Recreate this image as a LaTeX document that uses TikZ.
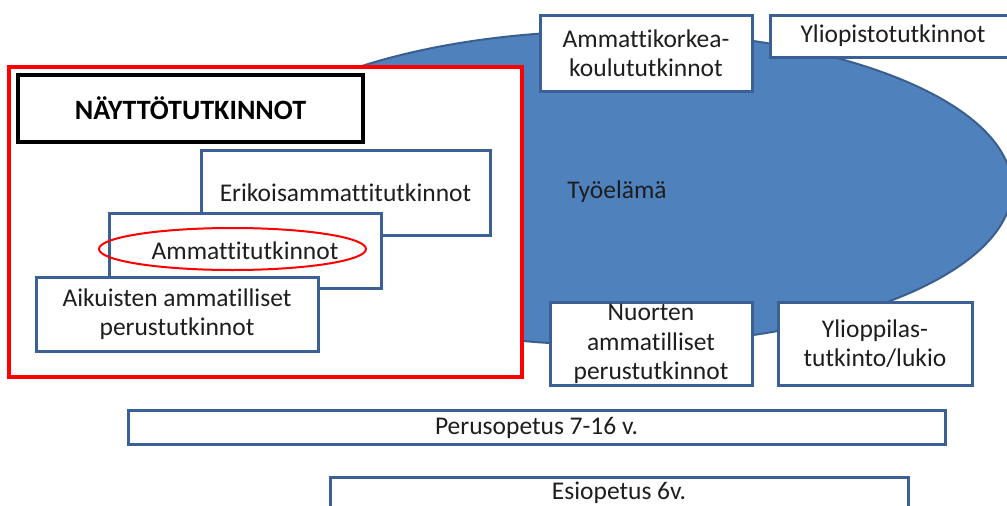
\documentclass[tikz,border=0pt]{standalone}
\usepackage{fontspec}
\setmainfont{Carlito}[Ligatures=NoCommon]
\usetikzlibrary{shapes.geometric}
\definecolor{ellfill}{HTML}{4F81BD}
\definecolor{elldraw}{HTML}{3A5F8E}
\definecolor{boxline}{HTML}{3A6096}
\definecolor{txtcol}{HTML}{1E1E1E}
\tikzset{
  box/.style={draw=boxline, line width=3pt, fill=white, inner sep=0pt, align=center,
    font=\fontsize{25.5}{29.5}\selectfont, text=txtcol},
  txt/.style={inner sep=0pt, align=center, font=\fontsize{25.5}{29.5}\selectfont, text=txtcol},
  redframe/.style={draw=red, line width=3.2pt, fill=white, inner sep=0pt},
  titlebox/.style={draw=black, line width=3.8pt, fill=white, inner sep=0pt,
    font=\fontsize{28}{32}\selectfont\bfseries, text=black},
  worklife/.style={ellipse, draw=elldraw, line width=2pt, fill=ellfill, inner sep=0pt},
  ring/.style={ellipse, draw=red, line width=2pt, inner sep=0pt}
}
\begin{document}
\begin{tikzpicture}[x=1pt,y=-1pt]
\useasboundingbox (0,0) rectangle (1007,506);
\clip (0,0) rectangle (1007,506);
% work life ellipse
\node[worklife, minimum width=798pt, minimum height=314pt] (tyo) at (613,188) {};
\node[txt] (tyot) at (617,192) {Työelämä};
% red frame
\node[redframe, minimum width=513pt, minimum height=310pt] (naytto) at (265.5,222) {};
\node[titlebox, minimum width=345pt, minimum height=67pt] (title) at (190.5,108.5) {NÄYTTÖTUTKINNOT};
\node[box, minimum width=289pt, minimum height=85pt] (erik) at (345.5,192.5) {Erikoisammattitutkinnot};
\node[box, minimum width=272pt, minimum height=75pt] (amm) at (245,250.5) {Ammattitutkinnot};
\node[ring, minimum width=267pt, minimum height=42pt] (ammring) at (232.5,249) {};
\node[box, minimum width=282pt, minimum height=74pt] (aik) at (177,314) {Aikuisten ammatilliset\\perustutkinnot};
% upper boxes
\node[box, minimum width=212pt, minimum height=76pt] (amk) at (646,53) {Ammattikorkea-\\koulututkinnot};
\node[box, minimum width=246pt, minimum height=42pt] (ylio) at (893,36) {Yliopistotutkinnot};
% lower boxes
\node[box, minimum width=202pt, minimum height=83pt] (nuor) at (651,343.5) {};
\node[txt] (nuort) at (651,344) {Nuorten\\ammatilliset\\perustutkinnot};
\node[box, minimum width=194pt, minimum height=83pt] (ylpl) at (875,343.5) {Ylioppilas-\\tutkinto/lukio};
\node[box, minimum width=817pt, minimum height=34pt] (perus) at (536.5,427) {};
\node[txt] (perust) at (536.5,428) {Perusopetus 7-16 v.};
\node[box, minimum width=578pt, minimum height=53pt] (esi) at (619,503.5) {};
\node[txt] (esit) at (619,493) {Esiopetus 6v.};
\end{tikzpicture}
\end{document}
